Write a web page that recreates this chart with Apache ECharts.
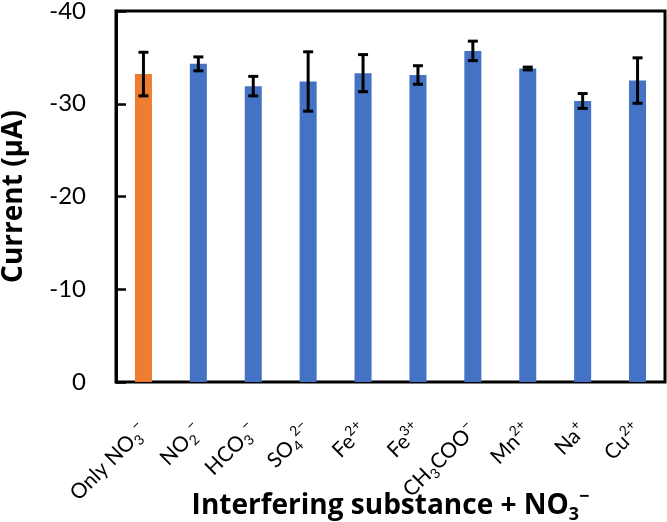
<!DOCTYPE html>
<html><head><meta charset="utf-8">
<script src="https://cdn.jsdelivr.net/npm/echarts@6/dist/echarts.min.js"></script>
<style>html,body{margin:0;padding:0;background:#fff}#c{width:667px;height:522px}</style>
</head><body><div id="c"></div>
<script>
// category labels written with {sub|..} / {sup|..} markup for chemical formulas
const categories = ['Only NO{sub|3}{sup|−}','NO{sub|2}{sup|−}','HCO{sub|3}{sup|−}','SO{sub|4}{sup|2−}','Fe{sup|2+}','Fe{sup|3+}','CH{sub|3}COO{sup|−}','Mn{sup|2+}','Na{sup|+}','Cu{sup|2+}'];
const currents = [-33.2,-34.3,-31.9,-32.4,-33.3,-33.1,-35.7,-33.8,-30.3,-32.5];
const errors = [2.35,0.75,1.05,3.2,2.0,1.0,1.05,0.15,0.8,2.45];
const barColors = ['#ED7D31','#4472C4','#4472C4','#4472C4','#4472C4','#4472C4','#4472C4','#4472C4','#4472C4','#4472C4'];
const yTicks = [-40,-30,-20,-10,0];

const FONT = 'Lato';
const TFONT = 'Open Sans';
const chart = echarts.init(document.getElementById('c'), null, {renderer:'canvas'});
chart.setOption({
  animation:false,
  grid:{left:116,top:11,right:2,bottom:140,containLabel:false,outerBoundsMode:'none',
    show:true,borderColor:'#000',borderWidth:3,backgroundColor:'transparent'},
  xAxis:{
    type:'category', data:categories,
    axisLine:{show:false}, axisTick:{show:false},
    axisLabel:{rotate:45,fontSize:21,color:'#000',fontFamily:FONT,margin:45,interval:0,lineHeight:27,
      rich:{
        sub:{fontSize:14,fontFamily:FONT,color:'#000',verticalAlign:'bottom',lineHeight:27},
        sup:{fontSize:14,fontFamily:FONT,color:'#000',verticalAlign:'top',lineHeight:27}
      }},
    name:'Interfering substance + NO{sub|3}{sup|−}', nameLocation:'middle', nameGap:106, nameMoveOverlap:false,
    nameTextStyle:{fontSize:28,fontWeight:'bold',color:'#000',fontFamily:TFONT,lineHeight:36,
      rich:{
        sub:{fontSize:18,fontWeight:'bold',fontFamily:TFONT,color:'#000',verticalAlign:'bottom',lineHeight:36},
        sup:{fontSize:18,fontWeight:'bold',fontFamily:TFONT,color:'#000',verticalAlign:'top',lineHeight:36}
      }}
  },
  yAxis:{
    type:'value', inverse:true, min:-40, max:0, interval:10,
    axisLine:{show:true,lineStyle:{color:'#000',width:3}},
    axisTick:{show:true,inside:true,length:10,lineStyle:{color:'#000',width:2.5}},
    splitLine:{show:false},
    axisLabel:{fontSize:24,color:'#000',fontFamily:FONT,margin:30,
      formatter:v=>yTicks.includes(v)?String(v):''},
    name:'Current (μA)', nameLocation:'middle', nameGap:88, nameMoveOverlap:false,
    nameTextStyle:{fontSize:28,fontWeight:'bold',color:'#000',fontFamily:TFONT}
  },
  series:[
    {type:'bar', barWidth:'31%',
     data:currents.map((v,i)=>({value:v,itemStyle:{color:barColors[i]}}))},
    {type:'custom', z:10,
     data:currents.map((v,i)=>[i,v-errors[i],v+errors[i]]),
     renderItem:(params,api)=>{
       const x=api.value(0);
       const p1=api.coord([x,api.value(1)]);
       const p2=api.coord([x,api.value(2)]);
       const hw=5;
       const st={stroke:'#000',lineWidth:3};
       return {type:'group',children:[
         {type:'line',shape:{x1:p1[0],y1:p1[1],x2:p2[0],y2:p2[1]},style:st},
         {type:'line',shape:{x1:p1[0]-hw,y1:p1[1],x2:p1[0]+hw,y2:p1[1]},style:st},
         {type:'line',shape:{x1:p2[0]-hw,y1:p2[1],x2:p2[0]+hw,y2:p2[1]},style:st}
       ]};
     }}
  ]
});
</script></body></html>
